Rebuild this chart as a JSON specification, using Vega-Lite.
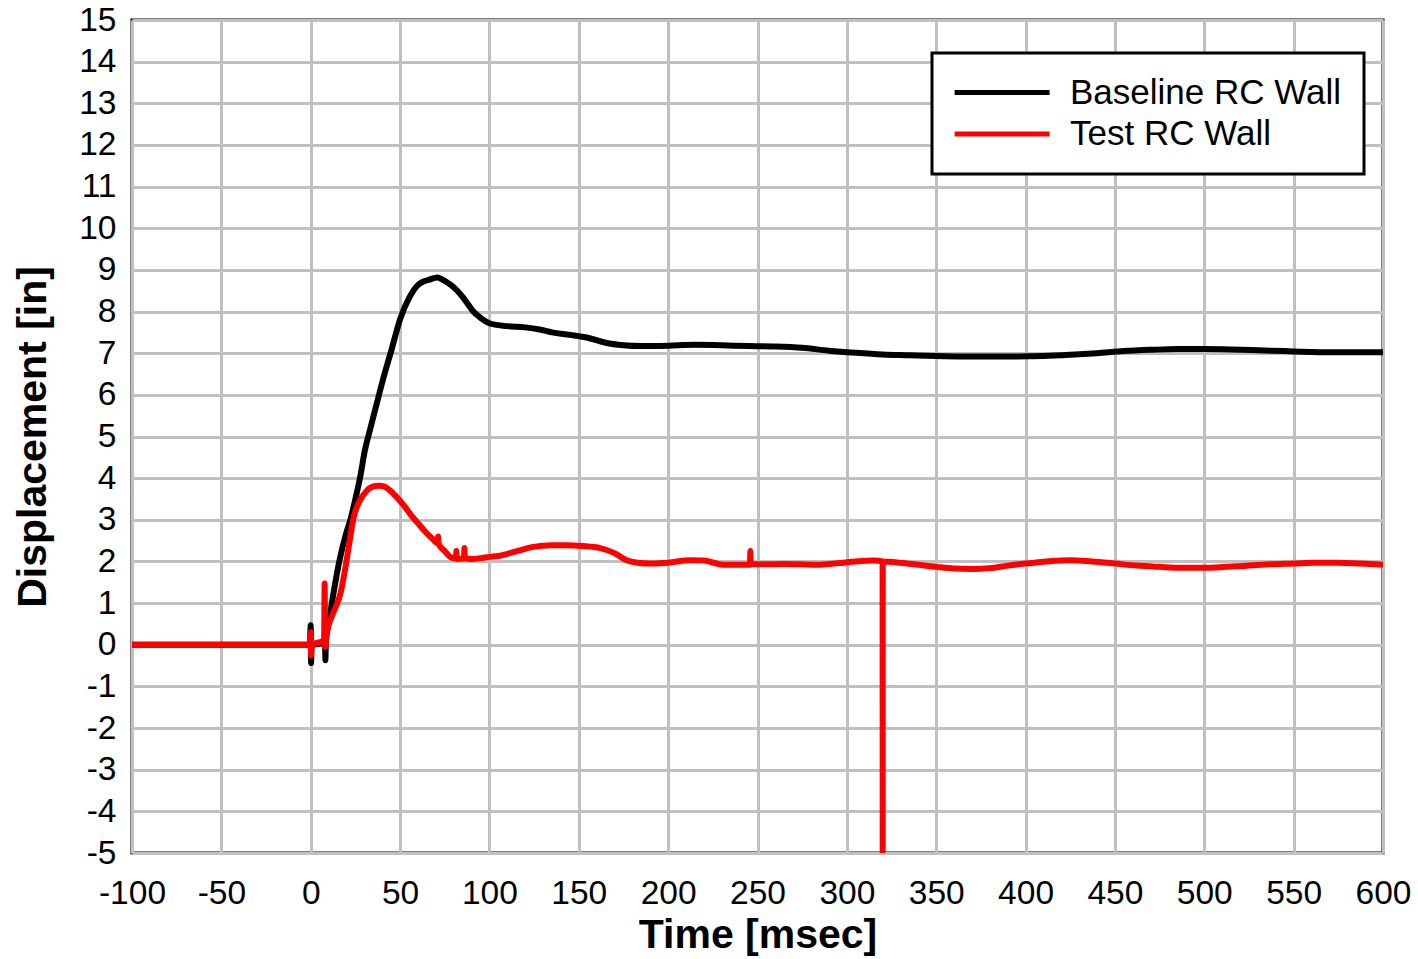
{
  "$schema": "https://vega.github.io/schema/vega-lite/v6.json",
  "width": 1251,
  "height": 833,
  "autosize": "none",
  "padding": {"left": 132, "top": 20, "right": 35, "bottom": 106},
  "background": "white",
  "config": {
    "font": "Liberation Sans",
    "view": {"stroke": "black", "strokeWidth": 3},
    "axis": {
      "grid": true,
      "gridColor": "#c0c0c0",
      "gridWidth": 3,
      "domain": false,
      "ticks": false,
      "labelFont": "Liberation Sans",
      "labelFontSize": 33.5,
      "labelColor": "black",
      "titleFont": "Liberation Sans",
      "titleFontSize": 41,
      "titleFontWeight": "bold",
      "titleColor": "black",
      "labelExpr": "datum.value < 0 ? '-' + abs(datum.value) : '' + datum.value"
    }
  },
  "data": {
    "values": [
      {"t": -100, "d": 0, "s": "Baseline RC Wall"},
      {"t": -50, "d": 0, "s": "Baseline RC Wall"},
      {"t": -0.5, "d": 0, "s": "Baseline RC Wall"},
      {"t": 0, "d": 0.47, "s": "Baseline RC Wall"},
      {"t": 0.2, "d": -0.44, "s": "Baseline RC Wall"},
      {"t": 0.5, "d": 0, "s": "Baseline RC Wall"},
      {"t": 4, "d": 0.02, "s": "Baseline RC Wall"},
      {"t": 7.8, "d": 0.05, "s": "Baseline RC Wall"},
      {"t": 8, "d": 0.35, "s": "Baseline RC Wall"},
      {"t": 8.2, "d": -0.37, "s": "Baseline RC Wall"},
      {"t": 8.5, "d": 0.1, "s": "Baseline RC Wall"},
      {"t": 10, "d": 0.5, "s": "Baseline RC Wall"},
      {"t": 13, "d": 1.3, "s": "Baseline RC Wall"},
      {"t": 16, "d": 2.0, "s": "Baseline RC Wall"},
      {"t": 20, "d": 2.7, "s": "Baseline RC Wall"},
      {"t": 22.2, "d": 3.0, "s": "Baseline RC Wall"},
      {"t": 25, "d": 3.5, "s": "Baseline RC Wall"},
      {"t": 28, "d": 4.1, "s": "Baseline RC Wall"},
      {"t": 30, "d": 4.6, "s": "Baseline RC Wall"},
      {"t": 33.4, "d": 5.2, "s": "Baseline RC Wall"},
      {"t": 37, "d": 5.8, "s": "Baseline RC Wall"},
      {"t": 40.9, "d": 6.44, "s": "Baseline RC Wall"},
      {"t": 45, "d": 7.05, "s": "Baseline RC Wall"},
      {"t": 50.3, "d": 7.85, "s": "Baseline RC Wall"},
      {"t": 55, "d": 8.32, "s": "Baseline RC Wall"},
      {"t": 59.6, "d": 8.62, "s": "Baseline RC Wall"},
      {"t": 63, "d": 8.72, "s": "Baseline RC Wall"},
      {"t": 66, "d": 8.76, "s": "Baseline RC Wall"},
      {"t": 70.8, "d": 8.82, "s": "Baseline RC Wall"},
      {"t": 74, "d": 8.76, "s": "Baseline RC Wall"},
      {"t": 78, "d": 8.65, "s": "Baseline RC Wall"},
      {"t": 82, "d": 8.5, "s": "Baseline RC Wall"},
      {"t": 85, "d": 8.35, "s": "Baseline RC Wall"},
      {"t": 87.6, "d": 8.2, "s": "Baseline RC Wall"},
      {"t": 91, "d": 8.0, "s": "Baseline RC Wall"},
      {"t": 95, "d": 7.85, "s": "Baseline RC Wall"},
      {"t": 100, "d": 7.72, "s": "Baseline RC Wall"},
      {"t": 104, "d": 7.68, "s": "Baseline RC Wall"},
      {"t": 110, "d": 7.65, "s": "Baseline RC Wall"},
      {"t": 120, "d": 7.62, "s": "Baseline RC Wall"},
      {"t": 128, "d": 7.57, "s": "Baseline RC Wall"},
      {"t": 135, "d": 7.5, "s": "Baseline RC Wall"},
      {"t": 145, "d": 7.44, "s": "Baseline RC Wall"},
      {"t": 155, "d": 7.37, "s": "Baseline RC Wall"},
      {"t": 165, "d": 7.25, "s": "Baseline RC Wall"},
      {"t": 175, "d": 7.19, "s": "Baseline RC Wall"},
      {"t": 185, "d": 7.17, "s": "Baseline RC Wall"},
      {"t": 200, "d": 7.18, "s": "Baseline RC Wall"},
      {"t": 215, "d": 7.2, "s": "Baseline RC Wall"},
      {"t": 230, "d": 7.19, "s": "Baseline RC Wall"},
      {"t": 245, "d": 7.17, "s": "Baseline RC Wall"},
      {"t": 260, "d": 7.16, "s": "Baseline RC Wall"},
      {"t": 275, "d": 7.13, "s": "Baseline RC Wall"},
      {"t": 290, "d": 7.06, "s": "Baseline RC Wall"},
      {"t": 305, "d": 7.01, "s": "Baseline RC Wall"},
      {"t": 320, "d": 6.97, "s": "Baseline RC Wall"},
      {"t": 335, "d": 6.95, "s": "Baseline RC Wall"},
      {"t": 350, "d": 6.93, "s": "Baseline RC Wall"},
      {"t": 365, "d": 6.92, "s": "Baseline RC Wall"},
      {"t": 380, "d": 6.92, "s": "Baseline RC Wall"},
      {"t": 395, "d": 6.92, "s": "Baseline RC Wall"},
      {"t": 410, "d": 6.93, "s": "Baseline RC Wall"},
      {"t": 425, "d": 6.96, "s": "Baseline RC Wall"},
      {"t": 440, "d": 7.0, "s": "Baseline RC Wall"},
      {"t": 455, "d": 7.05, "s": "Baseline RC Wall"},
      {"t": 470, "d": 7.08, "s": "Baseline RC Wall"},
      {"t": 485, "d": 7.1, "s": "Baseline RC Wall"},
      {"t": 500, "d": 7.1, "s": "Baseline RC Wall"},
      {"t": 515, "d": 7.09, "s": "Baseline RC Wall"},
      {"t": 530, "d": 7.07, "s": "Baseline RC Wall"},
      {"t": 545, "d": 7.05, "s": "Baseline RC Wall"},
      {"t": 560, "d": 7.03, "s": "Baseline RC Wall"},
      {"t": 575, "d": 7.02, "s": "Baseline RC Wall"},
      {"t": 590, "d": 7.02, "s": "Baseline RC Wall"},
      {"t": 600, "d": 7.02, "s": "Baseline RC Wall"},
      {"t": -100, "d": 0, "s": "Test RC Wall"},
      {"t": -50, "d": 0, "s": "Test RC Wall"},
      {"t": -0.5, "d": 0, "s": "Test RC Wall"},
      {"t": 0, "d": 0.3, "s": "Test RC Wall"},
      {"t": 0.2, "d": -0.26, "s": "Test RC Wall"},
      {"t": 0.5, "d": 0, "s": "Test RC Wall"},
      {"t": 4, "d": 0.05, "s": "Test RC Wall"},
      {"t": 7.5, "d": 0.1, "s": "Test RC Wall"},
      {"t": 7.8, "d": 1.47, "s": "Test RC Wall"},
      {"t": 8.1, "d": -0.05, "s": "Test RC Wall"},
      {"t": 9, "d": 0.3, "s": "Test RC Wall"},
      {"t": 12, "d": 0.7, "s": "Test RC Wall"},
      {"t": 16.7, "d": 1.24, "s": "Test RC Wall"},
      {"t": 20, "d": 2.0, "s": "Test RC Wall"},
      {"t": 22.2, "d": 2.6, "s": "Test RC Wall"},
      {"t": 24, "d": 3.05, "s": "Test RC Wall"},
      {"t": 27, "d": 3.42, "s": "Test RC Wall"},
      {"t": 31, "d": 3.68, "s": "Test RC Wall"},
      {"t": 35, "d": 3.8, "s": "Test RC Wall"},
      {"t": 38, "d": 3.82, "s": "Test RC Wall"},
      {"t": 41, "d": 3.8, "s": "Test RC Wall"},
      {"t": 44, "d": 3.72, "s": "Test RC Wall"},
      {"t": 48, "d": 3.55, "s": "Test RC Wall"},
      {"t": 52, "d": 3.35, "s": "Test RC Wall"},
      {"t": 56, "d": 3.12, "s": "Test RC Wall"},
      {"t": 60, "d": 2.92, "s": "Test RC Wall"},
      {"t": 64, "d": 2.72, "s": "Test RC Wall"},
      {"t": 68, "d": 2.55, "s": "Test RC Wall"},
      {"t": 71, "d": 2.44, "s": "Test RC Wall"},
      {"t": 71.3, "d": 2.6, "s": "Test RC Wall"},
      {"t": 71.6, "d": 2.42, "s": "Test RC Wall"},
      {"t": 75, "d": 2.25, "s": "Test RC Wall"},
      {"t": 78.4, "d": 2.1, "s": "Test RC Wall"},
      {"t": 81.3, "d": 2.07, "s": "Test RC Wall"},
      {"t": 81.5, "d": 2.25, "s": "Test RC Wall"},
      {"t": 81.7, "d": 2.06, "s": "Test RC Wall"},
      {"t": 85.8, "d": 2.07, "s": "Test RC Wall"},
      {"t": 86, "d": 2.32, "s": "Test RC Wall"},
      {"t": 86.2, "d": 2.07, "s": "Test RC Wall"},
      {"t": 90, "d": 2.06, "s": "Test RC Wall"},
      {"t": 95, "d": 2.08, "s": "Test RC Wall"},
      {"t": 100, "d": 2.11, "s": "Test RC Wall"},
      {"t": 105, "d": 2.13, "s": "Test RC Wall"},
      {"t": 110, "d": 2.18, "s": "Test RC Wall"},
      {"t": 118, "d": 2.28, "s": "Test RC Wall"},
      {"t": 124.5, "d": 2.35, "s": "Test RC Wall"},
      {"t": 135, "d": 2.39, "s": "Test RC Wall"},
      {"t": 143, "d": 2.39, "s": "Test RC Wall"},
      {"t": 152, "d": 2.37, "s": "Test RC Wall"},
      {"t": 162, "d": 2.32, "s": "Test RC Wall"},
      {"t": 170, "d": 2.2, "s": "Test RC Wall"},
      {"t": 176.8, "d": 2.03, "s": "Test RC Wall"},
      {"t": 183, "d": 1.97, "s": "Test RC Wall"},
      {"t": 190, "d": 1.95, "s": "Test RC Wall"},
      {"t": 200, "d": 1.97, "s": "Test RC Wall"},
      {"t": 212, "d": 2.03, "s": "Test RC Wall"},
      {"t": 220, "d": 2.02, "s": "Test RC Wall"},
      {"t": 231, "d": 1.92, "s": "Test RC Wall"},
      {"t": 240, "d": 1.92, "s": "Test RC Wall"},
      {"t": 245.8, "d": 1.92, "s": "Test RC Wall"},
      {"t": 246, "d": 2.25, "s": "Test RC Wall"},
      {"t": 246.2, "d": 1.93, "s": "Test RC Wall"},
      {"t": 255, "d": 1.93, "s": "Test RC Wall"},
      {"t": 265, "d": 1.94, "s": "Test RC Wall"},
      {"t": 283, "d": 1.92, "s": "Test RC Wall"},
      {"t": 295, "d": 1.96, "s": "Test RC Wall"},
      {"t": 305, "d": 2.0, "s": "Test RC Wall"},
      {"t": 315, "d": 2.02, "s": "Test RC Wall"},
      {"t": 320, "d": 2.0, "s": "Test RC Wall"},
      {"t": 320.05, "d": -5, "s": "Test RC Wall"},
      {"t": 320.1, "d": 2.0, "s": "Test RC Wall"},
      {"t": 330, "d": 1.97, "s": "Test RC Wall"},
      {"t": 340, "d": 1.92, "s": "Test RC Wall"},
      {"t": 350, "d": 1.87, "s": "Test RC Wall"},
      {"t": 360, "d": 1.83, "s": "Test RC Wall"},
      {"t": 370, "d": 1.82, "s": "Test RC Wall"},
      {"t": 380, "d": 1.84, "s": "Test RC Wall"},
      {"t": 390, "d": 1.9, "s": "Test RC Wall"},
      {"t": 400, "d": 1.95, "s": "Test RC Wall"},
      {"t": 412, "d": 2.0, "s": "Test RC Wall"},
      {"t": 425, "d": 2.03, "s": "Test RC Wall"},
      {"t": 437, "d": 2.0, "s": "Test RC Wall"},
      {"t": 450, "d": 1.95, "s": "Test RC Wall"},
      {"t": 462, "d": 1.9, "s": "Test RC Wall"},
      {"t": 475, "d": 1.87, "s": "Test RC Wall"},
      {"t": 487, "d": 1.85, "s": "Test RC Wall"},
      {"t": 500, "d": 1.85, "s": "Test RC Wall"},
      {"t": 512, "d": 1.87, "s": "Test RC Wall"},
      {"t": 525, "d": 1.9, "s": "Test RC Wall"},
      {"t": 537, "d": 1.93, "s": "Test RC Wall"},
      {"t": 550, "d": 1.95, "s": "Test RC Wall"},
      {"t": 562, "d": 1.97, "s": "Test RC Wall"},
      {"t": 575, "d": 1.97, "s": "Test RC Wall"},
      {"t": 587, "d": 1.95, "s": "Test RC Wall"},
      {"t": 600, "d": 1.92, "s": "Test RC Wall"}
    ]
  },
  "mark": {"type": "line", "strokeWidth": 6, "clip": true, "strokeJoin": "round", "strokeCap": "butt", "interpolate": "monotone"},
  "encoding": {
    "x": {
      "field": "t",
      "type": "quantitative",
      "scale": {"domain": [-100, 600], "nice": false, "zero": false},
      "axis": {
        "title": "Time [msec]",
        "values": [-100, -50, 0, 50, 100, 150, 200, 250, 300, 350, 400, 450, 500, 550, 600],
        "labelPadding": 24,
        "titlePadding": 6,
        "labelFlush": false
      }
    },
    "y": {
      "field": "d",
      "type": "quantitative",
      "scale": {"domain": [-5, 15], "nice": false, "zero": false},
      "axis": {
        "title": "Displacement [in]",
        "values": [-5, -4, -3, -2, -1, 0, 1, 2, 3, 4, 5, 6, 7, 8, 9, 10, 11, 12, 13, 14, 15],
        "labelPadding": 16,
        "titlePadding": 24,
        "labelFlush": false
      }
    },
    "color": {
      "field": "s",
      "type": "nominal",
      "scale": {"domain": ["Baseline RC Wall", "Test RC Wall"], "range": ["#000000", "#ff0000"]},
      "legend": {
        "title": null,
        "orient": "none",
        "legendX": 800,
        "legendY": 33,
        "fillColor": "white",
        "strokeColor": "black",
        "padding": 22,
        "symbolType": "M-1.42,0L6.58,0",
        "symbolSize": 564,
        "symbolStrokeWidth": 5,
        "labelFontSize": 35,
        "labelFont": "Liberation Sans",
        "labelColor": "black",
        "labelLimit": 500,
        "labelOffset": 81,
        "rowPadding": 5.5,
        "encode": {"legend": {"update": {"strokeWidth": {"value": 3}}}}
      }
    },
    "order": {"value": null}
  }
}
